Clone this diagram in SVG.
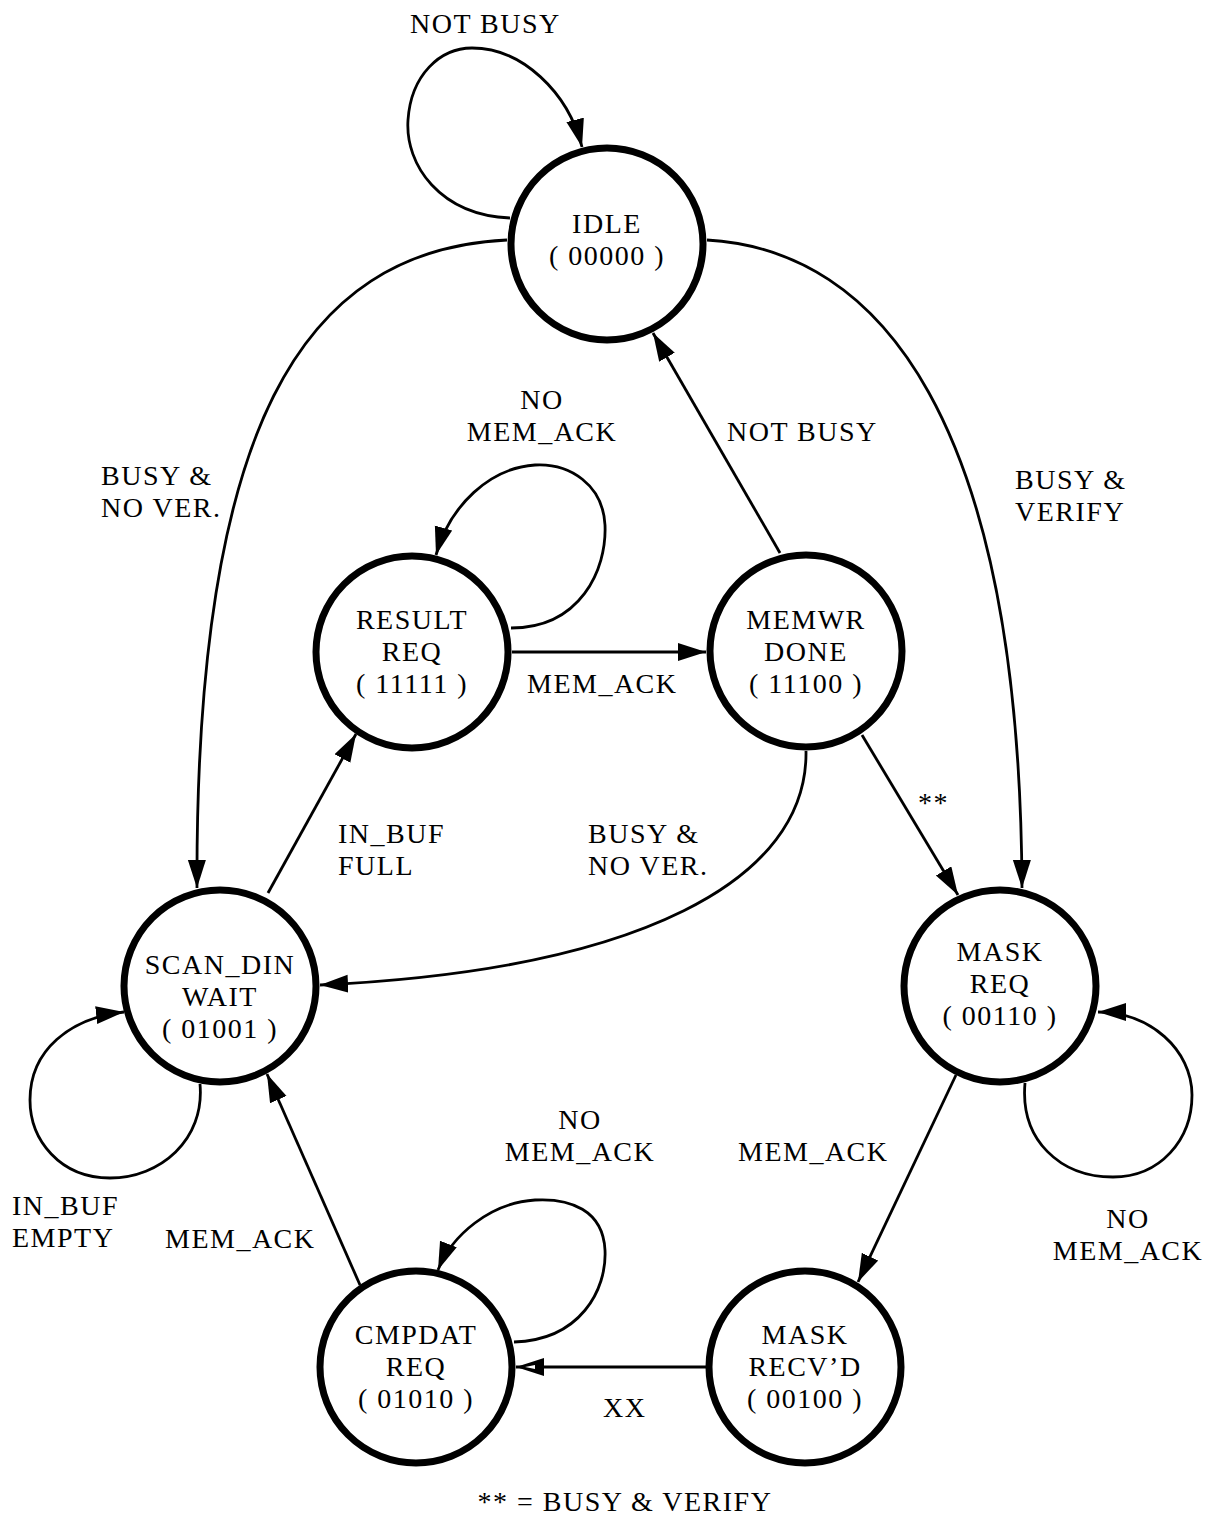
<svg xmlns="http://www.w3.org/2000/svg" width="1219" height="1518" viewBox="0 0 1219 1518">
  <style>
    text { font-family: "Liberation Serif", "Times New Roman", serif; font-size: 28px; letter-spacing: 1.5px; fill: #000; }
    .c { text-anchor: middle; }
    .state { fill: #fff; stroke: #000; stroke-width: 7; }
    .edge { fill: none; stroke: #000; stroke-width: 2.8; marker-end: url(#arrow); }
    .edge-open { fill: none; stroke: #000; stroke-width: 2.8; marker-end: url(#arrow-open); }
  </style>
  <defs>
    <marker id="arrow" markerUnits="userSpaceOnUse" markerWidth="30" markerHeight="20" refX="28" refY="9" orient="auto">
      <path d="M0,0 L28,9 L0,18 z" fill="#000"/>
    </marker>
    <marker id="arrow-open" markerUnits="userSpaceOnUse" markerWidth="30" markerHeight="20" refX="28" refY="9" orient="auto">
      <path d="M0,0 L28,9 L0,18 z" fill="#000"/>
      <path d="M9,7 L19,9 L9,11 z" fill="#fff"/>
    </marker>
  </defs>

  <rect width="1219" height="1518" fill="#fff"/>

  <!-- transitions -->
  <g id="connectors">
    <!-- IDLE self loop -->
    <path class="edge" d="M510 218 C 440 215, 405 165, 408 120 C 411 75, 440 48, 472 48 C 522 48, 568 92, 582 147"/>
    <!-- IDLE -> SCAN_DIN WAIT -->
    <path class="edge" d="M507 240 C 300 250, 195 430, 197 888"/>
    <!-- IDLE -> MASK REQ -->
    <path class="edge" d="M707 240 C 880 250, 1020 420, 1022 888"/>
    <!-- MEMWR DONE -> IDLE -->
    <path class="edge" d="M780 553 L653 333"/>
    <!-- RESULT REQ self loop -->
    <path class="edge" d="M511 628 C 580 628, 607 570, 605 525 C 603 485, 570 463, 535 465 C 490 468, 450 505, 436 555"/>
    <!-- RESULT REQ -> MEMWR DONE -->
    <path class="edge" d="M512 652 L706 652"/>
    <!-- SCAN_DIN WAIT -> RESULT REQ -->
    <path class="edge" d="M268 893 L356 734"/>
    <!-- MEMWR DONE -> SCAN_DIN WAIT -->
    <path class="edge" d="M806 751 C 808 880, 640 970, 320 985"/>
    <!-- MEMWR DONE -> MASK REQ -->
    <path class="edge" d="M862 735 L958 895"/>
    <!-- MASK REQ self loop -->
    <path class="edge" d="M1025 1083 C 1020 1140, 1060 1177, 1113 1177 C 1160 1177, 1192 1140, 1192 1095 C 1192 1050, 1150 1012, 1098 1012"/>
    <!-- MASK REQ -> MASK RECV'D -->
    <path class="edge" d="M956 1075 L858 1282"/>
    <!-- MASK RECV'D -> CMPDAT REQ -->
    <path class="edge-open" d="M706 1367 L516 1367"/>
    <!-- CMPDAT REQ self loop -->
    <path class="edge" d="M514 1342 C 580 1340, 607 1290, 605 1250 C 603 1210, 570 1198, 535 1200 C 490 1203, 452 1235, 438 1270"/>
    <!-- CMPDAT REQ -> SCAN_DIN WAIT -->
    <path class="edge" d="M360 1285 L267 1074"/>
    <!-- SCAN_DIN WAIT self loop -->
    <path class="edge" d="M200 1084 C 205 1140, 160 1178, 110 1178 C 60 1178, 30 1140, 30 1100 C 30 1050, 70 1018, 124 1012"/>

    <!-- transition labels -->
    <text x="410" y="33">NOT BUSY</text>
    <text x="101" y="485">BUSY &amp;</text>
    <text x="101" y="517">NO VER.</text>
    <text x="1015" y="489">BUSY &amp;</text>
    <text x="1015" y="521">VERIFY</text>
    <text x="727" y="441">NOT BUSY</text>
    <text class="c" x="542" y="409">NO</text>
    <text class="c" x="542" y="441">MEM_ACK</text>
    <text x="527" y="693">MEM_ACK</text>
    <text x="338" y="843">IN_BUF</text>
    <text x="338" y="875">FULL</text>
    <text x="588" y="843">BUSY &amp;</text>
    <text x="588" y="875">NO VER.</text>
    <text x="918" y="812">**</text>
    <text class="c" x="580" y="1129">NO</text>
    <text class="c" x="580" y="1161">MEM_ACK</text>
    <text x="738" y="1161">MEM_ACK</text>
    <text class="c" x="1128" y="1228">NO</text>
    <text class="c" x="1128" y="1260">MEM_ACK</text>
    <text x="12" y="1215">IN_BUF</text>
    <text x="12" y="1247">EMPTY</text>
    <text x="165" y="1248">MEM_ACK</text>
    <text x="603" y="1417">XX</text>
  </g>

  <!-- states -->
  <g id="idle">
    <circle class="state" cx="607" cy="244" r="96"/>
    <text class="c" x="607" y="233">IDLE</text>
    <text class="c" x="607" y="265">( 00000 )</text>
  </g>
  <g id="result-req">
    <circle class="state" cx="412" cy="652" r="96"/>
    <text class="c" x="412" y="629">RESULT</text>
    <text class="c" x="412" y="661">REQ</text>
    <text class="c" x="412" y="693">( 11111 )</text>
  </g>
  <g id="memwr-done">
    <circle class="state" cx="806" cy="651" r="96"/>
    <text class="c" x="806" y="629">MEMWR</text>
    <text class="c" x="806" y="661">DONE</text>
    <text class="c" x="806" y="693">( 11100 )</text>
  </g>
  <g id="scan-din-wait">
    <circle class="state" cx="220" cy="986" r="96"/>
    <text class="c" x="220" y="974">SCAN_DIN</text>
    <text class="c" x="220" y="1006">WAIT</text>
    <text class="c" x="220" y="1038">( 01001 )</text>
  </g>
  <g id="mask-req">
    <circle class="state" cx="1000" cy="986" r="96"/>
    <text class="c" x="1000" y="961">MASK</text>
    <text class="c" x="1000" y="993">REQ</text>
    <text class="c" x="1000" y="1025">( 00110 )</text>
  </g>
  <g id="cmpdat-req">
    <circle class="state" cx="416" cy="1367" r="96"/>
    <text class="c" x="416" y="1344">CMPDAT</text>
    <text class="c" x="416" y="1376">REQ</text>
    <text class="c" x="416" y="1408">( 01010 )</text>
  </g>
  <g id="mask-recvd">
    <circle class="state" cx="805" cy="1367" r="96"/>
    <text class="c" x="805" y="1344">MASK</text>
    <text class="c" x="805" y="1376">RECV’D</text>
    <text class="c" x="805" y="1408">( 00100 )</text>
  </g>

  <text class="c" x="625" y="1511">** = BUSY &amp; VERIFY</text>
</svg>
